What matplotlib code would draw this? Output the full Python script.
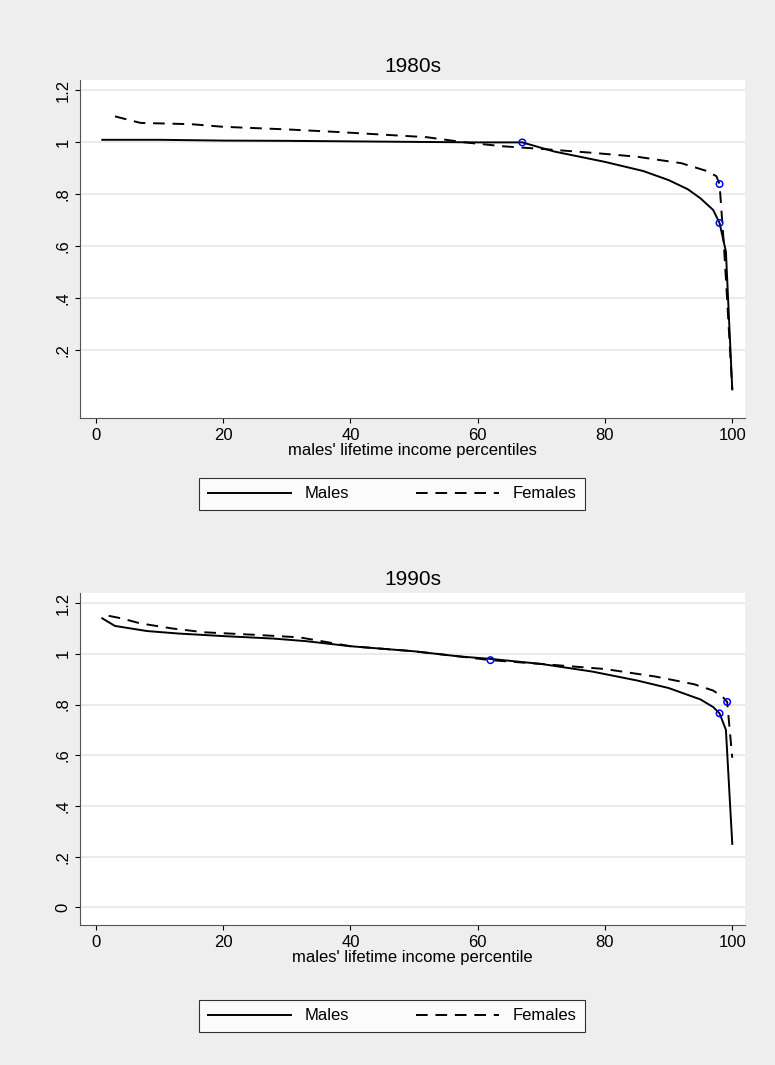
import matplotlib.pyplot as plt
from matplotlib.lines import Line2D

plt.rcParams['font.family'] = ['Liberation Sans', 'DejaVu Sans']

# 1980s
m80_x = [1, 10, 20, 30, 40, 50, 60, 67, 72, 76, 80, 86, 90, 93, 95, 97, 98, 99, 100]
m80_y = [1.01, 1.01, 1.007, 1.006, 1.004, 1.002, 1.0, 1.0, 0.965, 0.945, 0.925, 0.89, 0.855, 0.82, 0.785, 0.74, 0.69, 0.58, 0.05]
f80_x = [3, 7, 15, 20, 30, 38, 45, 52, 58, 64, 70, 78, 85, 92, 96, 97.5, 98, 98.7, 99.3, 100]
f80_y = [1.10, 1.075, 1.07, 1.06, 1.05, 1.04, 1.03, 1.02, 1.0, 0.985, 0.975, 0.96, 0.945, 0.92, 0.89, 0.87, 0.84, 0.6, 0.35, 0.05]
mk80_x = [67, 98, 98]
mk80_y = [1.0, 0.69, 0.84]

# 1990s
m90_x = [1, 3, 8, 13, 20, 28, 33, 40, 50, 57, 62, 70, 78, 85, 90, 95, 97, 98, 99, 100]
m90_y = [1.14, 1.11, 1.09, 1.08, 1.07, 1.06, 1.05, 1.03, 1.01, 0.99, 0.98, 0.96, 0.93, 0.895, 0.865, 0.82, 0.79, 0.765, 0.70, 0.25]
f90_x = [2, 4, 7, 12, 17, 25, 32, 40, 50, 57, 62, 70, 80, 88, 94, 97, 98.5, 99.2, 100]
f90_y = [1.15, 1.14, 1.12, 1.10, 1.085, 1.075, 1.065, 1.03, 1.01, 0.99, 0.975, 0.96, 0.94, 0.91, 0.88, 0.855, 0.83, 0.81, 0.59]
mk90_x = [62, 98, 99.2]
mk90_y = [0.975, 0.765, 0.81]

bg = '#eeeeee'
fig = plt.figure(figsize=(7.75, 10.65), dpi=100, facecolor=bg)
W, H = 775, 1065

panels = [
    ('1980s', m80_x, m80_y, f80_x, f80_y, mk80_x, mk80_y, (80, 80, 745, 418),
     [0.2, 0.4, 0.6, 0.8, 1.0, 1.2], (-0.06, 1.24), "males' lifetime income percentiles", 478),
    ('1990s', m90_x, m90_y, f90_x, f90_y, mk90_x, mk90_y, (80, 593, 745, 925),
     [0, 0.2, 0.4, 0.6, 0.8, 1.0, 1.2], (-0.07, 1.24), "males' lifetime income percentile", 1000),
]
for (title, mx, my, fx, fy, kx, ky, (l, t, r, b), yt, yl, xlab, legy) in panels:
    ax = fig.add_axes([l / W, 1 - b / H, (r - l) / W, (b - t) / H])
    ax.set_facecolor('white')
    ax.plot(mx, my, color='black', lw=1.4)
    ax.plot(fx, fy, color='black', lw=1.4, ls=(0, (6, 4)))
    ax.scatter(kx, ky, s=22, facecolors='none', edgecolors='blue', lw=1.1, zorder=3)
    ax.set_xlim(-2.5, 102)
    ax.set_ylim(*yl)
    ax.set_yticks(yt)
    ax.set_yticklabels(['0' if v == 0 else ('1' if v == 1 else ('%.1f' % v).lstrip('0')) for v in yt],
                       rotation=90, va='center', fontsize=12)
    ax.set_xticks([0, 20, 40, 60, 80, 100])
    ax.tick_params(axis='x', labelsize=12)
    ax.grid(axis='y', color='#e6e6e6', lw=1.2)
    ax.set_axisbelow(True)
    for s in ['top', 'right']:
        ax.spines[s].set_visible(False)
    for s in ['left', 'bottom']:
        ax.spines[s].set_color('#555555')
    ax.set_title(title, fontsize=15, pad=6)
    ax.set_xlabel(xlab, fontsize=12, labelpad=0)
    handles = [Line2D([], [], color='black', lw=1.4),
               Line2D([], [], color='black', lw=1.4, ls=(0, (6, 4)))]
    leg = fig.legend(handles, ['Males', 'Females'], ncol=2, loc='center',
                     bbox_to_anchor=(392 / W, 1 - (legy + 16) / H), fontsize=12,
                     frameon=True, fancybox=False, edgecolor='black', handlelength=5,
                     columnspacing=4, borderpad=0.5)
    leg.get_frame().set_linewidth(0.8)

fig.savefig('out.png', dpi=100, facecolor=bg)
